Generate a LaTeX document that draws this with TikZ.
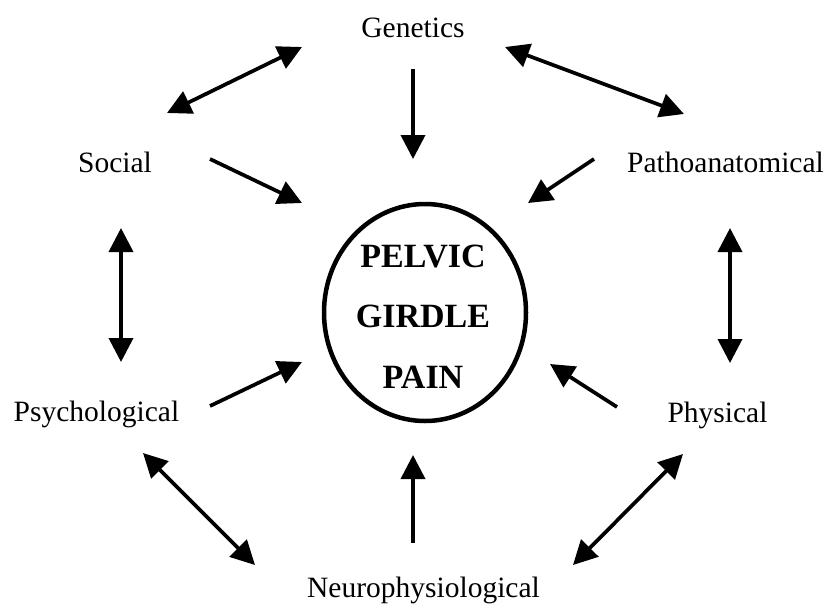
\documentclass[tikz,border=0pt]{standalone}
\usepackage{fontspec}
\setmainfont{Liberation Serif}
\usepackage{tikz}
\usetikzlibrary{arrows.meta, shapes.geometric}

\begin{document}
\begin{tikzpicture}[x=1pt, y=-1pt,
			>={Triangle[length=24pt,width=24pt]},   %Pfeilspitzen
			arr/.style={black, line width=3.7pt},
			factor/.style={anchor=base, inner sep=0pt, font=\fontsize{29.5}{34}\selectfont},
			font=\fontsize{29.5}{34}\selectfont]
			\useasboundingbox (0,0) rectangle (833,606);
			\node[factor] (genetics) at (413,37) {Genetics};
			\node[factor] (social) at (115,172) {Social};
			\node[factor] (patho) at (725.5,172) {Pathoanatomical};
			\node[factor] (psycho) at (96.5,421) {Psychological};
			\node[factor] (physical) at (717.5,422) {Physical};
			\node[factor] (neuro) at (423.5,597) {Neurophysiological};
			\node[draw, ellipse, line width=4.5pt, minimum width=202pt, minimum height=217pt] (pgp) at (425,312.5) {};
			\node[align=center, inner sep=0pt, font=\fontsize{34}{60.5}\selectfont\bfseries] (pgptext) at (423,316.5) {PELVIC\\GIRDLE\\PAIN};
			\coordinate (sg1) at (167,113);  \coordinate (sg2) at (302,47);
			\coordinate (gp1) at (505,47);   \coordinate (gp2) at (684,114);
			\coordinate (g1) at (413,69);    \coordinate (g2) at (413,159);
			\coordinate (s1) at (210,159);   \coordinate (s2) at (302,203);
			\coordinate (p1) at (594,159);   \coordinate (p2) at (528,203);
			\coordinate (sp1) at (121,228);  \coordinate (sp2) at (121,362);
			\coordinate (pp1) at (730,228);  \coordinate (pp2) at (730,363);
			\coordinate (ps1) at (210,406);  \coordinate (ps2) at (302,362);
			\coordinate (ph1) at (617,407);  \coordinate (ph2) at (550,364);
			\coordinate (pn1) at (143,453);  \coordinate (pn2) at (255,565);
			\coordinate (n1) at (413,543);   \coordinate (n2) at (413,455);
			\coordinate (hn1) at (683,454);  \coordinate (hn2) at (573,565);
			\draw[arr, <->] (sg1) -- (sg2);
			\draw[arr, <->] (gp1) -- (gp2);
			\draw[arr, ->] (g1) -- (g2);
			\draw[arr, ->] (s1) -- (s2);
			\draw[arr, ->] (p1) -- (p2);
			\draw[arr, <->] (sp1) -- (sp2);
			\draw[arr, <->] (pp1) -- (pp2);
			\draw[arr, ->] (ps1) -- (ps2);
			\draw[arr, ->] (ph1) -- (ph2);
			\draw[arr, <->] (pn1) -- (pn2);
			\draw[arr, ->] (n1) -- (n2);
			\draw[arr, <->] (hn1) -- (hn2);
		\end{tikzpicture}
\end{document}
